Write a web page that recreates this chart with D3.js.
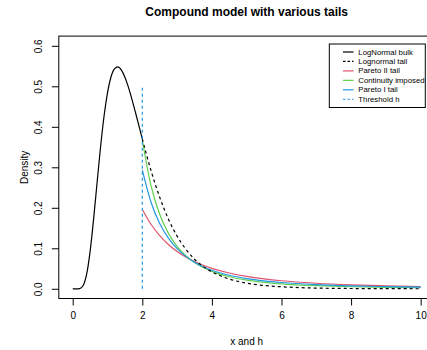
<!DOCTYPE html>
<html>
<head>
<meta charset="utf-8">
<script src="https://cdn.jsdelivr.net/npm/d3@7"></script>
<style>
  body { margin: 0; background: #fff; }
  text { font-family: "Liberation Sans", Arial, sans-serif; }
</style>
</head>
<body>
<svg id="mainsvg" width="427" height="350"></svg>
<script>
// values
const bulkX = [0, 0.1, 0.2, 0.3, 0.4, 0.5, 0.6, 0.7, 0.8, 0.9, 1.0, 1.1, 1.2, 1.3, 1.4, 1.5, 1.6, 1.7, 1.8, 1.9, 2.0];
const bulkY = [0, 0, 0.0005, 0.008, 0.036, 0.0925, 0.172, 0.262, 0.350, 0.426, 0.484, 0.523, 0.543, 0.548, 0.540, 0.5225, 0.498, 0.4685, 0.4365, 0.4034, 0.370];

const tailX = [2, 2.25, 2.5, 2.75, 3, 3.25, 3.5, 3.75, 4, 4.5, 5, 5.5, 6, 7, 8, 9, 10];
const lognormTail = [0.370, 0.292, 0.226, 0.172, 0.130, 0.098, 0.073, 0.055, 0.042, 0.024, 0.014, 0.008, 0.005, 0.0017, 0.0007, 0.0003, 0.0001];
const pareto2Tail = [0.196, 0.1594, 0.1313, 0.1095, 0.0922, 0.0784, 0.0672, 0.0581, 0.0505, 0.0389, 0.0306, 0.0245, 0.0199, 0.0137, 0.0098, 0.0073, 0.0055];
const continuityTail = [0.367, 0.2548, 0.1839, 0.1369, 0.1046, 0.0816, 0.0649, 0.0524, 0.0429, 0.0298, 0.0215, 0.0160, 0.0122, 0.0076, 0.0050, 0.0035, 0.0025];
const pareto1Tail = [0.293, 0.2138, 0.1613, 0.1250, 0.0991, 0.0800, 0.0656, 0.0546, 0.0459, 0.0335, 0.0253, 0.0196, 0.0155, 0.0103, 0.0072, 0.0053, 0.0040];

const threshold = 2;
const thresholdTop = 0.5;

const xTicks = [0, 2, 4, 6, 8, 10];
const yTicks = [0, 0.1, 0.2, 0.3, 0.4, 0.5, 0.6];

const legendLabels = ["LogNormal bulk", "Lognormal tail", "Pareto II tail", "Continuity imposed", "Pareto I tail", "Threshold h"];
const legendColors = ["#000000", "#000000", "#DF536B", "#61D04F", "#2297E6", "#2297E6"];
const legendDash = [null, "3,3", null, null, null, "3,3"];

const svg = d3.select("#mainsvg");

const x = d3.scaleLinear().domain([-0.4, 10.4]).range([58.8, 434.6]);
const y = d3.scaleLinear().domain([-0.024, 0.624]).range([298.5, 36.1]);

// box
svg.append("rect")
  .attr("x", x(-0.4)).attr("y", y(0.624))
  .attr("width", x(10.4) - x(-0.4)).attr("height", y(-0.024) - y(0.624))
  .attr("fill", "none").attr("stroke", "#000").attr("stroke-width", 1);

const xAxis = svg.append("g")
  .attr("transform", `translate(0,${y(-0.024)})`)
  .call(d3.axisBottom(x).tickValues(xTicks).tickSize(7).tickPadding(6).tickFormat(d3.format("d")));
xAxis.select(".domain").remove();
xAxis.selectAll("text").style("font-size", "10px").attr("fill", "#000");

const yAxis = svg.append("g")
  .attr("transform", `translate(${x(-0.4)},0)`)
  .call(d3.axisLeft(y).tickValues(yTicks).tickSize(7).tickFormat(d3.format(".1f")));
yAxis.select(".domain").remove();
yAxis.selectAll("text")
  .style("font-size", "10px")
  .attr("fill", "#000")
  .attr("text-anchor", "middle")
  .attr("dy", null)
  .attr("x", null)
  .attr("transform", "translate(-20.5,0) rotate(-90)")
  .attr("dominant-baseline", "central");

const line = d3.line()
  .x(d => x(d[0]))
  .y(d => y(d[1]))
  .curve(d3.curveMonotoneX);

function drawCurve(xs, ys, color, dash) {
  const p = svg.append("path")
    .datum(xs.map((v, i) => [v, ys[i]]))
    .attr("d", line)
    .attr("fill", "none")
    .attr("stroke", color)
    .attr("stroke-width", 1.2);
  if (dash) p.attr("stroke-dasharray", dash);
}

drawCurve(tailX, pareto2Tail, "#DF536B");
drawCurve(tailX, continuityTail, "#61D04F");
drawCurve(tailX, pareto1Tail, "#2297E6");
drawCurve(tailX, lognormTail, "#000000", "3,3");
drawCurve(bulkX, bulkY, "#000000");

svg.append("line")
  .attr("x1", x(threshold)).attr("x2", x(threshold))
  .attr("y1", y(0)).attr("y2", y(thresholdTop))
  .attr("stroke", "#2297E6")
  .attr("stroke-width", 1.2)
  .attr("stroke-dasharray", "3,3");

// titles
svg.append("text")
  .attr("x", (x(-0.4) + x(10.4)) / 2).attr("y", 16)
  .attr("text-anchor", "middle")
  .style("font-size", "12px").style("font-weight", "bold")
  .text("Compound model with various tails");

svg.append("text")
  .attr("x", (x(-0.4) + x(10.4)) / 2).attr("y", 345)
  .attr("text-anchor", "middle")
  .style("font-size", "10px")
  .text("x and h");

svg.append("text")
  .attr("transform", `translate(28,${(y(-0.024) + y(0.624)) / 2}) rotate(-90)`)
  .attr("text-anchor", "middle")
  .style("font-size", "10px")
  .text("Density");

// legend
const lg = svg.append("g");
lg.append("rect")
  .attr("x", 329.3).attr("y", 44)
  .attr("width", 96).attr("height", 63.5)
  .attr("fill", "#fff").attr("stroke", "#000").attr("stroke-width", 1);

legendLabels.forEach((lab, i) => {
  const cy = 52 + i * 9.45;
  const l = lg.append("line")
    .attr("x1", 343).attr("x2", 353.5)
    .attr("y1", cy).attr("y2", cy)
    .attr("stroke", legendColors[i])
    .attr("stroke-width", 1.2);
  if (legendDash[i]) l.attr("stroke-dasharray", "2.5,2");
  lg.append("text")
    .attr("x", 358.3).attr("y", cy)
    .attr("dominant-baseline", "central")
    .style("font-size", "7.8px")
    .text(lab);
});
</script>
</body>
</html>
